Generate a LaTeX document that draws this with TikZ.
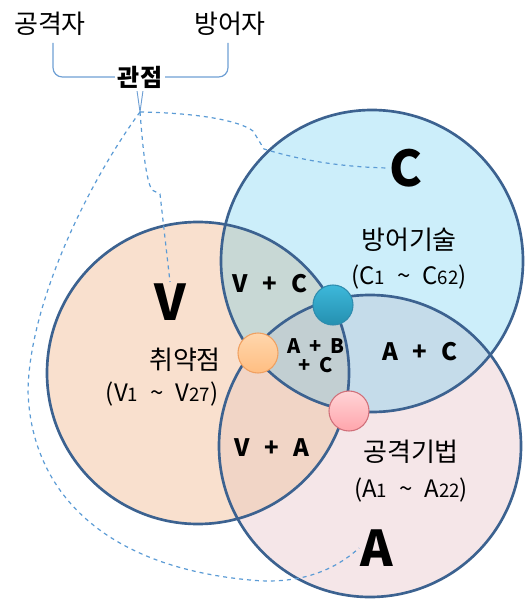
\documentclass[tikz,border=0pt]{standalone}
\usepackage{fontspec}
\setmainfont{Noto Sans CJK KR}
\definecolor{cfill}{HTML}{CCEEFA}
\definecolor{vfill}{HTML}{F9E0CE}
\definecolor{afill}{HTML}{F5E6E8}
\definecolor{vcfill}{HTML}{C8D8D5}
\definecolor{acfill}{HTML}{C5DCEA}
\definecolor{vafill}{HTML}{F1D5C6}
\definecolor{vacfill}{HTML}{C2CFD2}
\definecolor{edge}{HTML}{3C6290}
\definecolor{dashc}{HTML}{5B9BD5}
\definecolor{brk}{HTML}{6E9FD4}
\definecolor{bdraw}{HTML}{2E8CAE}
\definecolor{btop}{HTML}{3DB8DA}
\definecolor{bbot}{HTML}{2590B0}
\definecolor{odraw}{HTML}{F0A060}
\definecolor{otop}{HTML}{FFD6AC}
\definecolor{obot}{HTML}{FFBE82}
\definecolor{pdraw}{HTML}{D0707A}
\definecolor{ptop}{HTML}{FFD4D6}
\definecolor{pbot}{HTML}{FFA5AC}
\newcommand\smd[1]{{\fontsize{14}{15}\selectfont #1}}
\newcommand\gap{\hspace{0.6em}}
\newcommand\tl{\hspace{0.5em}\textasciitilde\hspace{0.5em}}
\begin{document}
\begin{tikzpicture}[x=0.75pt,y=-0.75pt,
  toplbl/.style={font=\fontsize{19.5}{21}\selectfont},
  biglbl/.style={font=\fontsize{37}{40}\selectfont\bfseries, inner sep=1pt},
  kor/.style={font=\fontsize{19.5}{21}\selectfont},
  rng/.style={font=\fontsize{18}{20}\selectfont},
  pair/.style={font=\fontsize{18}{20}\selectfont\bfseries},
  triple/.style={font=\fontsize{15}{17}\selectfont\bfseries, align=center},
  ring/.style={draw=edge, line width=2pt},
  conn/.style={draw=dashc, dashed, line width=0.9pt},
  bracket/.style={draw=brk, line width=0.9pt},
  dot/.style={circle, minimum size=30pt, inner sep=0pt, line width=0.8pt}]
\useasboundingbox (0,0) rectangle (527,599);
\def\R{113.25pt}
\coordinate (cC) at (372,261);
\coordinate (cV) at (198,373);
\coordinate (cA) at (370,446);
% fills
\fill[cfill] (cC) circle (\R);
\fill[vfill] (cV) circle (\R);
\fill[afill] (cA) circle (\R);
\begin{scope}\clip (cV) circle (\R); \fill[vcfill] (cC) circle (\R);\end{scope}
\begin{scope}\clip (cV) circle (\R); \fill[vafill] (cA) circle (\R);\end{scope}
\begin{scope}\clip (cC) circle (\R); \fill[acfill] (cA) circle (\R);\end{scope}
\begin{scope}\clip (cV) circle (\R); \clip (cC) circle (\R); \fill[vacfill] (cA) circle (\R);\end{scope}
\draw[ring] (cC) circle (\R);
\draw[ring] (cV) circle (\R);
\draw[ring] (cA) circle (\R);
% top labels
\node[toplbl] (atk) at (50,24) {공격자};
\node[toplbl] (def) at (230,24) {방어자};
\node[font=\fontsize{18}{20}\selectfont\bfseries, inner sep=2pt] (gw) at (140,77) {관점};
\draw[bracket, rounded corners=7pt] (53,43) |- (gw.west);
\draw[bracket, rounded corners=7pt] (228,43) |- (gw.east);
\coordinate (tip) at (140,112);
\draw[bracket, line width=0.7pt] ([xshift=-2.2pt]gw.south) -- (tip) -- ([xshift=2.2pt]gw.south);
% letters
\node[biglbl] (C) at (406,168) {C};
\node[biglbl] (V) at (170,302) {V};
\node[biglbl] (A) at (377,548) {A};
\node[kor] (ct) at (409,240) {방어기술};
\node[rng] (cr) at (409,277) {(C\smd{1}\tl C\smd{62})};
\node[kor] (vt) at (185,360) {취약점};
\node[rng] (vr) at (162,394) {(V\smd{1}\tl V\smd{27})};
\node[kor] (at) at (411,452) {공격기법};
\node[rng] (ar) at (411,490) {(A\smd{1}\tl A\smd{22})};
\node[pair] (vc) at (270,284) {V\gap+\gap C};
\node[pair] (va) at (272,448) {V\gap+\gap A};
\node[pair] (ac) at (420,352) {A\gap+\gap C};
\node[triple] (abc) at (316,356) {A\hspace{0.45em}+\hspace{0.45em}B\\[-3pt]+\hspace{0.45em}C};
% dots
\node[dot, draw=bdraw, top color=btop, bottom color=bbot] (db) at (333,305) {};
\node[dot, draw=odraw, top color=otop, bottom color=obot] (do) at (258,353) {};
\node[dot, draw=pdraw, top color=ptop, bottom color=pbot] (dp) at (349,411) {};
% dashed connectors
\draw[conn] (tip) .. controls (200,113) and (240,121) .. (253,131) -- (264,149) .. controls (300,160) and (340,167) .. (C.west);
\draw[conn] (tip) .. controls (143,150) and (146,180) .. (152,190) -- (160,194) -- (V.north);
\draw[conn] (tip) .. controls (90,180) and (30,300) .. (28,390) .. controls (30,480) and (90,565) .. (250,580) .. controls (300,585) and (335,570) .. (A.west);
\end{tikzpicture}
\end{document}
